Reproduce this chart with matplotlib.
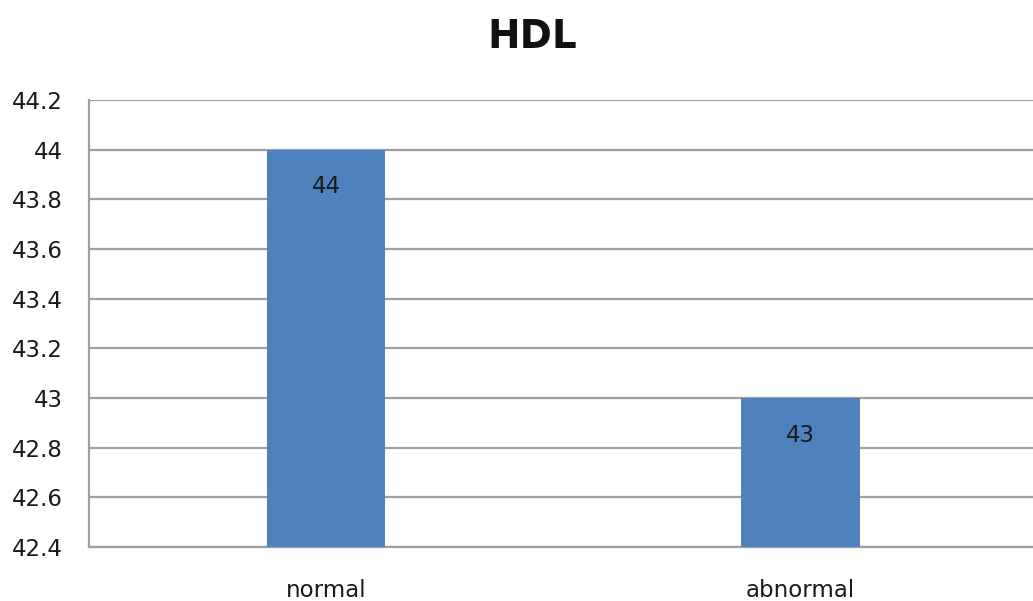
import matplotlib.pyplot as plt

categories = ["normal", "abnormal"]
values = [44, 43]
yticks = [42.4, 42.6, 42.8, 43.0, 43.2, 43.4, 43.6, 43.8, 44.0, 44.2]
ytick_labels = ["42.4", "42.6", "42.8", "43", "43.2", "43.4", "43.6", "43.8", "44", "44.2"]

BAR = "#4F81BD"
GRID = "#A0A0A0"
TEXT = "#1a1a1a"

fig = plt.figure(figsize=(10.33, 6.01), dpi=100)
ax = fig.add_axes([0.0862, 0.0899, 0.918, 0.7437])

x = range(len(categories))
ax.bar(x, [v - 42.4 for v in values], bottom=42.4, width=0.25,
       color=BAR, zorder=3)

ax.set_xlim(-0.5, 1.5)
ax.set_ylim(42.4, 44.2)
ax.set_yticks(yticks)
ax.set_yticklabels(ytick_labels, fontsize=16.5, color=TEXT)
ax.set_xticks(list(x))
ax.set_xticklabels(categories, fontsize=16.5, color=TEXT)
ax.tick_params(axis="both", length=0)
ax.tick_params(axis="y", pad=19)
ax.tick_params(axis="x", pad=23)

ax.grid(axis="y", color=GRID, linewidth=1.6, zorder=0)
for side in ("top", "right"):
    ax.spines[side].set_visible(False)
for side in ("left", "bottom"):
    ax.spines[side].set_color(GRID)
    ax.spines[side].set_linewidth(1.6)

# value labels just inside the top of each bar
for xi, v in zip(x, values):
    ax.text(xi, v - 0.15, f"{v:g}", ha="center", va="center",
            fontsize=16.5, color=TEXT, zorder=4)

fig.text(0.5155, 0.938, "HDL", ha="center", va="center",
         fontsize=28, fontweight="bold", color="#111111")

fig.savefig("out.png", dpi=100)
